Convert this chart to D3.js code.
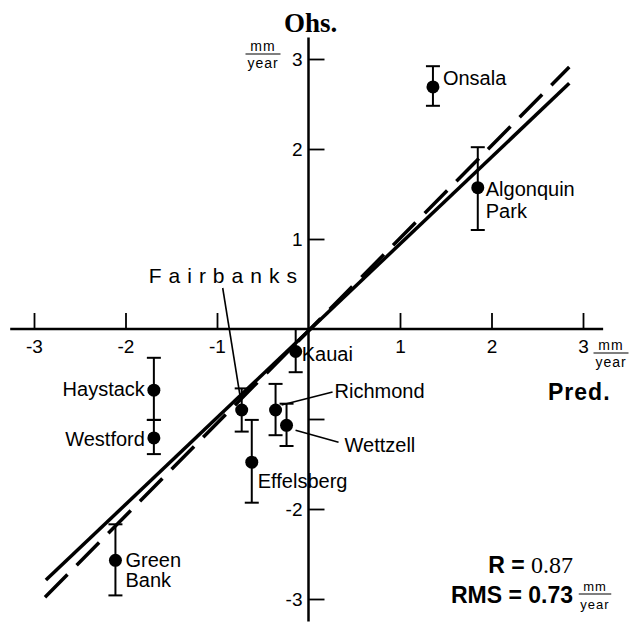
<!DOCTYPE html>
<html lang="en">
<head>
  <title>Obs vs Pred</title>
  <meta charset="utf-8">
  <script src="https://d3js.org/d3.v7.min.js"></script>
  <style>
    body { margin: 0; background: #fff; }
    svg { display: block; font-family: "Liberation Sans", Arial, Helvetica, sans-serif; }
    text { fill: #000; }
  </style>
</head>
<body>
<svg width="633" height="625"></svg>
<script>
// station data (predicted vs observed rates, mm/year)
var stations = ["Onsala", "Algonquin Park", "Kauai", "Haystack", "Westford",
                "Fairbanks", "Richmond", "Wettzell", "Effelsberg", "Green Bank"];
var pred    = [1.36, 1.85, -0.14, -1.69, -1.69, -0.73, -0.36, -0.24, -0.62, -2.11];
var obs     = [2.69, 1.57, -0.25, -0.68, -1.21, -0.90, -0.90, -1.07, -1.48, -2.57];
var errHigh = [2.92, 2.02,  0.00, -0.32, -1.01, -0.66, -0.61, -0.83, -1.01, -2.17];
var errLow  = [2.48, 1.10, -0.48, -1.01, -1.39, -1.14, -1.18, -1.30, -1.93, -2.96];

// fitted lines (end points)
var solidLine  = [[-2.87, -2.79], [2.85, 2.73]];
var dashedLine = [[-2.88, -2.98], [2.85, 2.91]];

var xTicks = [-3, -2, -1, 1, 2, 3];
var xTickLabels = ["-3", "-2", "-1", "1", "2", "3"];
var yTicks = [-3, -2, -1, 1, 2, 3];
var yTickLabels = ["-3", "-2", "", "1", "2", "3"];

var serif = "'Liberation Serif', 'Times New Roman', serif";
var svg = d3.select("svg");

var x = d3.scaleLinear().domain([-3, 3]).range([34, 583]);
var y = d3.scaleLinear().domain([-3, 3]).range([599, 59]);

// axis lines through the origin
svg.append("line")
   .attr("x1", x(-3.26)).attr("x2", x(3.22))
   .attr("y1", y(0)).attr("y2", y(0))
   .attr("stroke", "#000").attr("stroke-width", 2.5);
svg.append("line")
   .attr("x1", x(0)).attr("x2", x(0))
   .attr("y1", y(3.24)).attr("y2", y(-3.25))
   .attr("stroke", "#000").attr("stroke-width", 2.5);

var xAxis = svg.append("g")
   .attr("transform", "translate(0," + y(0) + ")")
   .call(d3.axisBottom(x).tickValues(xTicks)
         .tickFormat(function(d, i) { return xTickLabels[i]; })
         .tickSize(-16).tickPadding(11));
xAxis.select(".domain").remove();

var yAxis = svg.append("g")
   .attr("transform", "translate(" + x(0) + ",0)")
   .call(d3.axisLeft(y).tickValues(yTicks)
         .tickFormat(function(d, i) { return yTickLabels[i]; })
         .tickSize(-16).tickPadding(6));
yAxis.select(".domain").remove();

svg.selectAll(".tick line").attr("stroke-width", 1.8);
svg.selectAll(".tick text").style("font-size", "19px")
   .style("font-family", "'Liberation Sans', Arial, sans-serif");

// fraction "mm / year"
function unit(cx, by, size, gap) {
  var g = svg.append("g");
  g.append("text").attr("x", cx).attr("y", by).attr("text-anchor", "middle")
   .style("font-size", size + "px").attr("letter-spacing", 1).text("mm");
  g.append("line").attr("x1", cx - size * 1.25).attr("x2", cx + size * 1.25)
   .attr("y1", by + 3).attr("y2", by + 3).attr("stroke", "#000").attr("stroke-width", 1.2);
  g.append("text").attr("x", cx).attr("y", by + gap).attr("text-anchor", "middle")
   .style("font-size", size + "px").attr("letter-spacing", 1).text("year");
}
unit(263, 51, 14, 17);
unit(611, 350, 14, 17);
unit(595, 591, 13, 18);

svg.append("text").attr("x", 284).attr("y", 32)
   .style("font-family", serif)
   .style("font-weight", "bold").style("font-size", "27px").text("Ohs.");

svg.append("text").attr("x", 548).attr("y", 400)
   .style("font-weight", "bold").style("font-size", "23px").attr("letter-spacing", 1).text("Pred.");

// fit lines
svg.append("line")
   .attr("x1", x(solidLine[0][0])).attr("y1", y(solidLine[0][1]))
   .attr("x2", x(solidLine[1][0])).attr("y2", y(solidLine[1][1]))
   .attr("stroke", "#000").attr("stroke-width", 3.5);
svg.append("line")
   .attr("x1", x(dashedLine[0][0])).attr("y1", y(dashedLine[0][1]))
   .attr("x2", x(dashedLine[1][0])).attr("y2", y(dashedLine[1][1]))
   .attr("stroke", "#000").attr("stroke-width", 3.5)
   .attr("stroke-dasharray", "32,13");

// error bars and points
var idx = d3.range(stations.length);
var bars = svg.append("g").selectAll("g").data(idx).enter().append("g")
   .attr("stroke", "#000").attr("stroke-width", 2);
bars.append("line")
   .attr("x1", function(i) { return x(pred[i]); }).attr("x2", function(i) { return x(pred[i]); })
   .attr("y1", function(i) { return y(errHigh[i]); }).attr("y2", function(i) { return y(errLow[i]); });
bars.append("line")
   .attr("x1", function(i) { return x(pred[i]) - 7; }).attr("x2", function(i) { return x(pred[i]) + 7; })
   .attr("y1", function(i) { return y(errHigh[i]); }).attr("y2", function(i) { return y(errHigh[i]); });
bars.append("line")
   .attr("x1", function(i) { return x(pred[i]) - 7; }).attr("x2", function(i) { return x(pred[i]) + 7; })
   .attr("y1", function(i) { return y(errLow[i]); }).attr("y2", function(i) { return y(errLow[i]); });

svg.append("g").selectAll("circle").data(idx).enter().append("circle")
   .attr("cx", function(i) { return x(pred[i]); })
   .attr("cy", function(i) { return y(obs[i]); })
   .attr("r", 6.5).attr("fill", "#000");

// label placement relative to each point
var labelPos = {
  "Onsala":         { dx: 10, dy: [-2] },
  "Algonquin Park": { dx: 8,  dy: [8, 30], lines: ["Algonquin", "Park"] },
  "Kauai":          { dx: 6,  dy: [9] },
  "Haystack":       { dx: -9, dy: [6], anchor: "end" },
  "Westford":       { dx: -9, dy: [8], anchor: "end" },
  "Fairbanks":      { dx: -93, dy: [-127], size: 21, spacing: 7, leader: [[-19, -122], [-1, -10]] },
  "Richmond":       { dx: 59, dy: [-12], leader: [[57, -18], [6, -5]] },
  "Wettzell":       { dx: 58, dy: [27], leader: [[52, 17], [9, 5]] },
  "Effelsberg":     { dx: 6,  dy: [26] },
  "Green Bank":     { dx: 10, dy: [7, 27], lines: ["Green", "Bank"] }
};

idx.forEach(function(i) {
  var p = labelPos[stations[i]];
  var px = x(pred[i]), py = y(obs[i]);
  var lines = p.lines || [stations[i]];
  lines.forEach(function(t, k) {
    svg.append("text")
       .attr("x", px + p.dx).attr("y", py + p.dy[k])
       .attr("text-anchor", p.anchor || "start")
       .style("font-size", (p.size || 20) + "px")
       .attr("letter-spacing", p.spacing || 0)
       .text(t);
  });
  if (p.leader) {
    svg.append("line")
       .attr("x1", px + p.leader[0][0]).attr("y1", py + p.leader[0][1])
       .attr("x2", px + p.leader[1][0]).attr("y2", py + p.leader[1][1])
       .attr("stroke", "#000").attr("stroke-width", 1.6);
  }
});

// statistics
var stat = svg.append("text").attr("x", 573).attr("y", 573).attr("text-anchor", "end");
stat.append("tspan").style("font-weight", "bold").style("font-size", "23px").text("R = ");
stat.append("tspan").style("font-family", serif).style("font-size", "24px").text("0.87");
svg.append("text").attr("x", 573).attr("y", 603).attr("text-anchor", "end")
   .style("font-weight", "bold").style("font-size", "23px").text("RMS = 0.73");
</script>
</body>
</html>
